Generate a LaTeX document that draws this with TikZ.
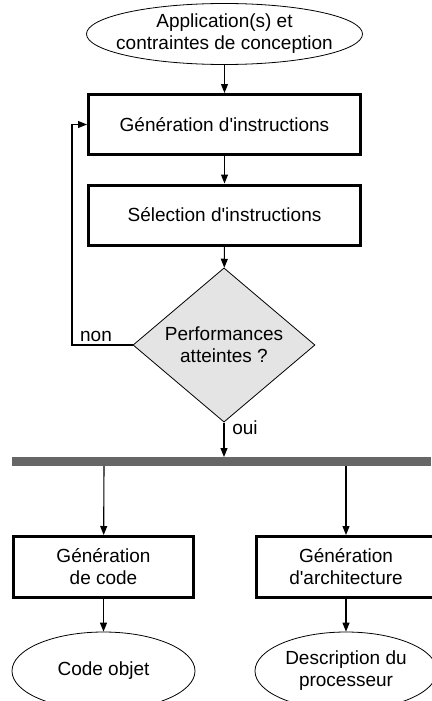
\documentclass[tikz,border=0pt]{standalone}
\usepackage{fontspec}
\setmainfont{Liberation Sans}
\usetikzlibrary{shapes.geometric,arrows.meta,shadows}

\definecolor{decisionfill}{HTML}{E4E4E4}
\definecolor{busgray}{HTML}{666666}
\newcommand{\apos}{\textquotesingle}

\begin{document}
\begin{tikzpicture}[x=1pt,y=-1pt,
  every node/.style={font=\fontsize{19}{22}\selectfont, align=center, inner sep=0pt},
  procbox/.style={draw, line width=3pt, fill=white, minimum width=272pt, minimum height=60pt,
    drop shadow={shadow xshift=1.5pt, shadow yshift=-1.5pt, fill=black!45, opacity=1}},
  smallbox/.style={procbox, minimum width=180pt, minimum height=61pt},
  terminal/.style={draw, ellipse, line width=0.8pt, fill=white},
  decision/.style={draw, diamond, line width=0.8pt, fill=decisionfill, minimum width=182pt, minimum height=136pt},
  flow/.style={line width=1.1pt, -{Triangle[length=9pt,width=7pt]}},
  bus/.style={line width=9pt, busgray}
]
\useasboundingbox (0,0) rectangle (431,701);

% input
\node[terminal, inner xsep=-12pt, minimum width=276pt, minimum height=61pt] (app) at (224.5,34)
  {Application(s) et\\contraintes de conception};

% instruction loop
\node[procbox] (geninst) at (224.5,124.5) {Génération d\apos instructions};
\node[procbox] (selinst) at (224.5,215) {Sélection d\apos instructions};
\node[decision] (perf) at (224,345) {Performances\\atteintes ?};

\draw[flow] (app) -- (geninst);
\draw[flow] (geninst) -- (selinst);
\draw[flow] (selinst) -- (perf);

\coordinate (loopB) at (72,345);
\coordinate (loopT) at (72,124.5);
\draw[flow] (perf.west) -- (loopB) -- (loopT) -- (geninst.west);
\node (non) at (96,336) {non};

% distribution bar
\coordinate (barL) at (12,461.5);
\coordinate (barR) at (431,461.5);
\coordinate (barIn) at (224,457);
\coordinate (barOutL) at (104,466);
\coordinate (barOutR) at (346,466);
\draw[bus] (barL) -- (barR);
\draw[flow] (perf.south) -- (barIn);
\node (oui) at (245,428) {oui};

% back-end generation
\node[smallbox] (gencode) at (103.5,567) {Génération\\de code};
\node[smallbox] (genarch) at (346,567) {Génération\\d\apos architecture};
\draw[flow] (barOutL) -- (gencode);
\draw[flow] (barOutR) -- (genarch);

% outputs
\node[terminal, minimum width=183pt, minimum height=78pt] (obj) at (103.5,671) {Code objet};
\node[terminal, minimum width=182pt, minimum height=78pt] (desc) at (346,671) {Description du\\processeur};
\draw[flow] (gencode) -- (obj);
\draw[flow] (genarch) -- (desc);
\end{tikzpicture}
\end{document}
